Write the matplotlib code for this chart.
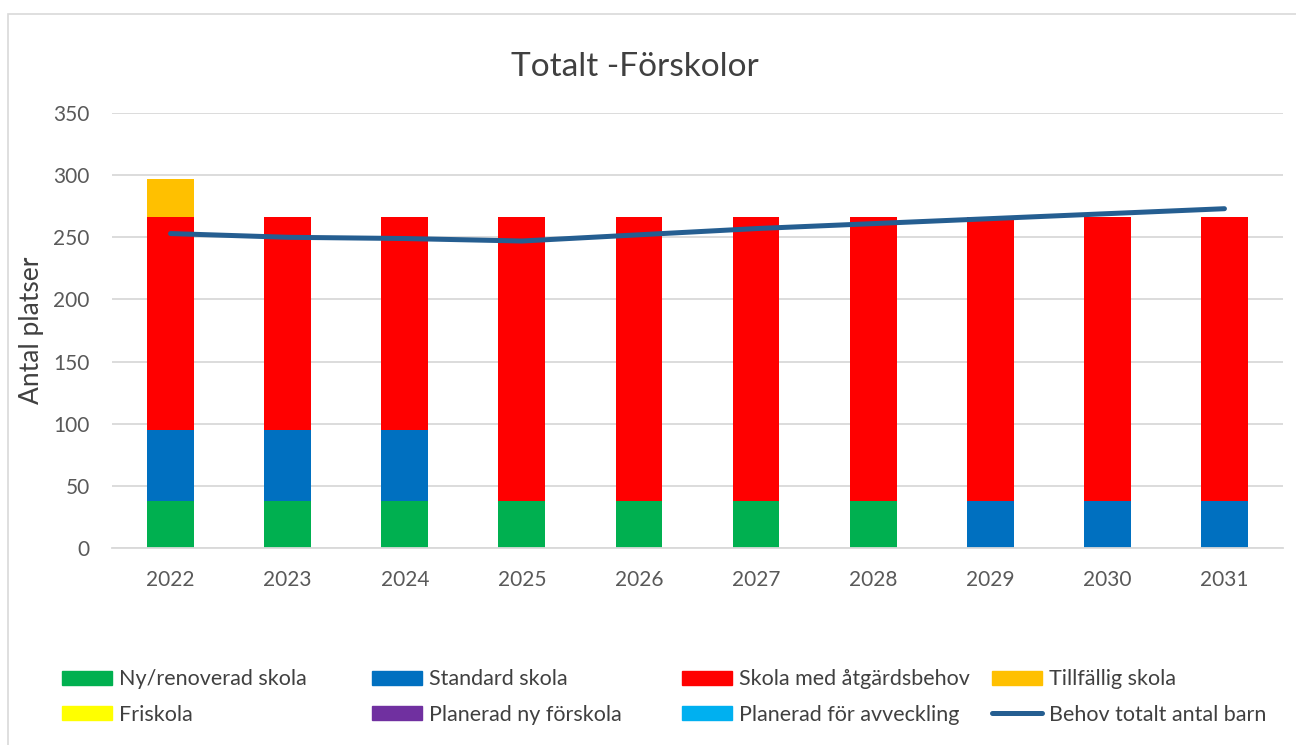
import matplotlib.pyplot as plt
import matplotlib.patches as mpatches
import numpy as np

plt.rcParams['font.family'] = ['Lato', 'DejaVu Sans']

years = ['2022', '2023', '2024', '2025', '2026', '2027', '2028', '2029', '2030', '2031']

# stacked bar series (antal platser)
ny_renoverad = [38, 38, 38, 38, 38, 38, 38, 0, 0, 0]
standard = [57, 57, 57, 0, 0, 0, 0, 38, 38, 38]
atgardsbehov = [171, 171, 171, 228, 228, 228, 228, 228, 228, 228]
tillfallig = [31, 0, 0, 0, 0, 0, 0, 0, 0, 0]
friskola = [0] * 10
planerad_ny = [0] * 10
avveckling = [0] * 10

behov = [253, 250, 249, 247, 252, 257, 261, 265, 269, 273]

series = [
    ('Ny/renoverad skola', ny_renoverad, '#00B050'),
    ('Standard skola', standard, '#0070C0'),
    ('Skola med åtgärdsbehov', atgardsbehov, '#FF0000'),
    ('Tillfällig skola', tillfallig, '#FFC000'),
    ('Friskola', friskola, '#FFFF00'),
    ('Planerad ny förskola', planerad_ny, '#7030A0'),
    ('Planerad för avveckling', avveckling, '#00B0F0'),
]

fig = plt.figure(figsize=(12.96, 7.45), dpi=100)
ax = fig.add_axes([112 / 1296, 1 - 548 / 745, (1283 - 112) / 1296, (548 - 113) / 745])

x = np.arange(len(years))
bottom = np.zeros(len(years))
handles = []
for name, vals, col in series:
    ax.bar(x, vals, width=0.4, bottom=bottom, color=col, zorder=2)
    bottom += np.array(vals)
    handles.append(mpatches.Patch(color=col, label=name))

line, = ax.plot(x, behov, color='#255E91', linewidth=3.6, solid_capstyle='round',
                zorder=3, label='Behov totalt antal barn')
handles.append(line)

ax.set_xlim(-0.5, len(years) - 0.5)
ax.set_ylim(0, 350)
ax.set_yticks(range(0, 351, 50))
ax.set_xticks(x)
ax.set_xticklabels(years)
ax.yaxis.grid(True, color='#D9D9D9', linewidth=1.3, zorder=0)
ax.set_axisbelow(True)
for s in ['top', 'right', 'left']:
    ax.spines[s].set_visible(False)
ax.spines['bottom'].set_color('#D9D9D9')
ax.spines['bottom'].set_linewidth(1.3)
ax.tick_params(axis='y', length=0, labelsize=15, labelcolor='#595959', pad=16)
ax.tick_params(axis='x', length=0, labelsize=15, labelcolor='#595959', pad=16)
ax.set_ylabel('Antal platser', fontsize=19, color='#404040', labelpad=7)

fig.text(635 / 1296, 1 - 67 / 745, 'Totalt -Förskolor', fontsize=24, color='#404040',
         ha='center', va='center')

# legend: one column at a time so the columns sit at fixed positions
col_x = [62, 372, 682, 992]
for c in range(4):
    hs = [handles[c], handles[c + 4]]
    leg = fig.legend(hs, [h.get_label() for h in hs], loc='center left',
                     bbox_to_anchor=(col_x[c] / 1296, 1 - 697 / 745), frameon=False,
                     fontsize=15.5, labelcolor='#404040', handlelength=2.3,
                     handleheight=0.65, handletextpad=0.33, labelspacing=0.72,
                     borderpad=0, borderaxespad=0)

# chart area border
fig.patches.append(mpatches.Rectangle((8 / 1296, -0.01), 1.1, 1 - 14 / 745 + 0.01,
                                      transform=fig.transFigure, fill=False,
                                      edgecolor='#D9D9D9', linewidth=1.2))

fig.savefig('out.png', dpi=100)
